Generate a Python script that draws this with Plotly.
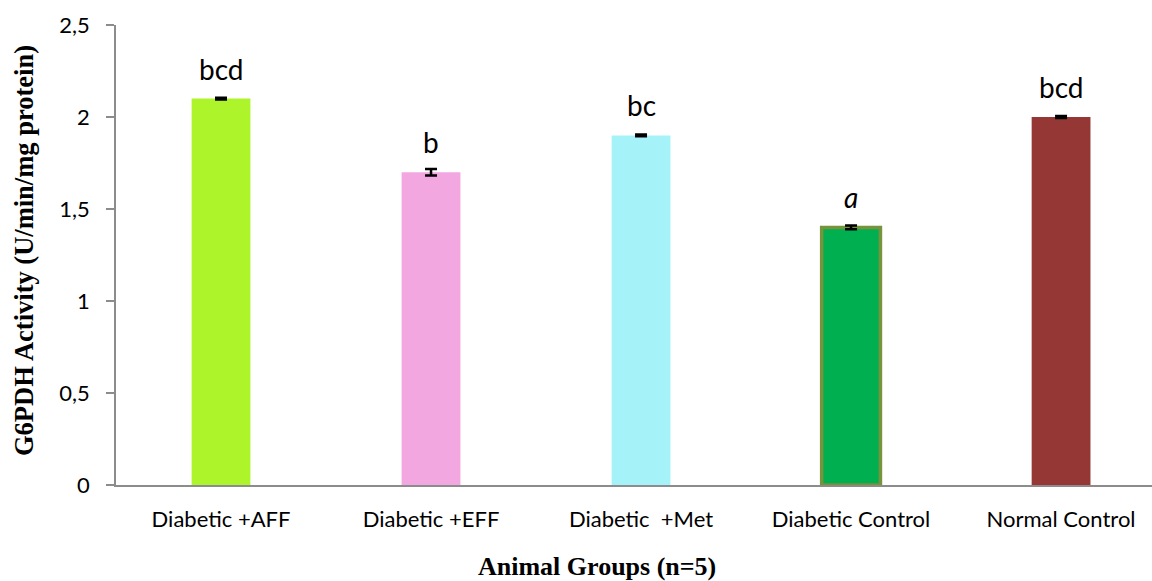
import plotly.graph_objects as go

categories = ["Diabetic +AFF", "Diabetic +EFF", "Diabetic  +Met", "Diabetic Control", "Normal Control"]
values = [2.1, 1.7, 1.9, 1.4, 2.0]
errors = [0.005, 0.018, 0.005, 0.01, 0.005]
letters = ["bcd", "b", "bc", "<i>a</i>", "bcd"]
fill_colors = ["#ADF52A", "#F2A7E0", "#A5F3F8", "#00B050", "#953735"]
line_colors = ["#ADF52A", "#F2A7E0", "#A5F3F8", "#77933C", "#953735"]
line_widths = [0, 0, 0, 3.5, 0]
yticks = [0, 0.5, 1, 1.5, 2, 2.5]
ytick_text = ["0", "0,5", "1", "1,5", "2", "2,5"]

fig = go.Figure()
fig.add_trace(go.Bar(
    x=list(range(len(categories))), y=values,
    width=0.28,
    marker=dict(color=fill_colors, line=dict(color=line_colors, width=line_widths)),
    error_y=dict(type="data", array=errors, color="black", thickness=2.5, width=6),
    showlegend=False,
))

for i, (v, t) in enumerate(zip(values, letters)):
    fig.add_annotation(x=i, y=v, text=t, showarrow=False, yanchor="bottom", yshift=11,
                       font=dict(family="Lato, Open Sans, sans-serif", size=28, color="black"))

serif = "Liberation Serif, Times New Roman, serif"
fig.add_annotation(xref="paper", yref="paper", x=-0.0888, y=0.5087, xanchor="center", yanchor="middle",
                   textangle=-90, showarrow=False,
                   text="<b>G6PDH Activity (U/min/mg protein)</b>",
                   font=dict(family=serif, size=26.5, color="black"))
fig.add_annotation(xref="paper", yref="paper", x=0.464, y=-0.178, xanchor="center", yanchor="middle",
                   showarrow=False,
                   text="<b>Animal Groups (n=5)</b>",
                   font=dict(family=serif, size=26, color="black"))

fig.update_layout(
    width=1152, height=581,
    margin=dict(l=116, r=0, t=25, b=96),
    plot_bgcolor="white", paper_bgcolor="white",
    xaxis=dict(
        range=[-0.5, 4.433],
        tickmode="array", tickvals=list(range(len(categories))), ticktext=categories,
        showline=True, linecolor="#8C8C8C", linewidth=2,
        ticks="", showgrid=False, zeroline=False,
        ticklabelstandoff=14,
        tickfont=dict(family="Lato, Open Sans, sans-serif", size=22, color="black"),
    ),
    yaxis=dict(
        range=[0, 2.5],
        tickmode="array", tickvals=yticks, ticktext=ytick_text,
        showline=True, linecolor="#8C8C8C", linewidth=1.5,
        ticks="outside", ticklen=8, tickcolor="#8C8C8C", tickwidth=1.5,
        showgrid=False, zeroline=False,
        ticklabelstandoff=12,
        tickfont=dict(family="Lato, Open Sans, sans-serif", size=22, color="black"),
    ),
)

fig.write_html("out.html", config={"displayModeBar": False},
               post_script="document.body.style.margin='0';document.body.style.overflow='hidden';")
